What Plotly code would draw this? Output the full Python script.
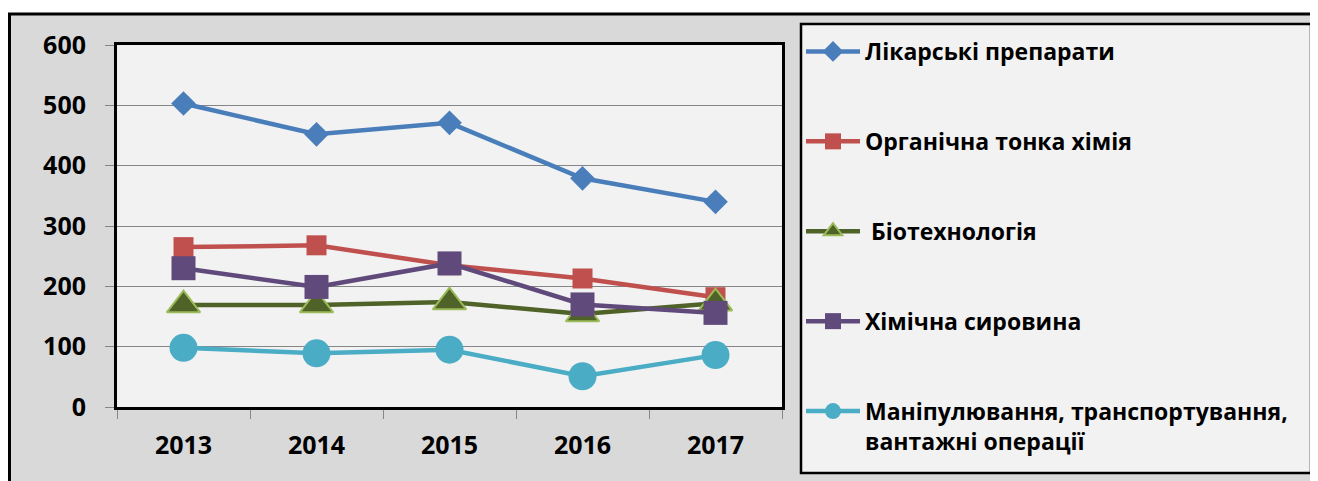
import plotly.graph_objects as go

years = ["2013", "2014", "2015", "2016", "2017"]
names = [
    "Лікарські препарати",
    "Органічна тонка хімія",
    " Біотехнологія",
    "Хімічна сировина",
    "Маніпулювання, транспортування,<br>вантажні операції",
]
drugs = [503, 452, 471, 379, 340]
organic = [265, 268, 235, 213, 182]
biotech = [169, 169, 174, 154, 172]
chem_raw = [230, 199, 238, 170, 156]
handling = [98, 89, 95, 51, 86]
y_ticks = [0, 100, 200, 300, 400, 500, 600]

# page offset from the default body margin
OFF = 8
W, H = 1310, 473
L, R, T, B = 117, 782, 45, 407   # plot area in page pixels


def px(X):
    return (X - L) / (R - L)


def py(Y):
    return (B - Y) / (B - T)


FONT = "Open Sans"

fig = go.Figure()
series = [
    (drugs, names[0], "#4a7ebb", dict(symbol="diamond", size=19, color="#4a7ebb")),
    (organic, names[1], "#c0504d", dict(symbol="square", size=20, color="#c0504d")),
    (biotech, names[2], "#4f6228", dict(symbol="triangle-up", size=29, color="#4f6228",
                                         line=dict(color="#9bbb59", width=2))),
    (chem_raw, names[3], "#604a7b", dict(symbol="square", size=24, color="#604a7b")),
    (handling, names[4], "#4bacc6", dict(symbol="circle", size=28, color="#4bacc6")),
]
for i, (vals, nm, col, mk) in enumerate(series):
    fig.add_trace(go.Scatter(
        x=years, y=vals, name=nm, mode="lines+markers",
        line=dict(color=col, width=4.5), marker=mk,
        legendgroup=f"g{i}",
    ))

shapes = [
    dict(type="rect", xref="paper", yref="paper", x0=px(-10), x1=px(1340), y0=py(14), y1=py(-10),
         fillcolor="white", line=dict(width=0), layer="below"),
    dict(type="rect", xref="paper", yref="paper", x0=px(-10), x1=px(9.5), y0=py(500), y1=py(14),
         fillcolor="white", line=dict(width=0), layer="below"),
    dict(type="rect", xref="paper", yref="paper", x0=px(9.5), x1=px(1340), y0=py(500), y1=py(14),
         line=dict(color="black", width=3), layer="below"),
    dict(type="rect", xref="paper", yref="paper", x0=px(801), x1=px(1311), y0=py(473), y1=py(24),
         fillcolor="#f2f2f2", line=dict(color="black", width=2.5), layer="below"),
]

fig.update_layout(
    width=W, height=H,
    margin=dict(l=L - OFF, r=W + OFF - R, t=T - OFF, b=H + OFF - B, pad=0),
    paper_bgcolor="#d9d9d9",
    plot_bgcolor="#f2f2f2",
    shapes=shapes,
    showlegend=True,
    legend=dict(
        x=px(801), xanchor="left", y=py(30), yanchor="top",
        bgcolor="rgba(0,0,0,0)", borderwidth=0,
        font=dict(family=FONT, size=23, color="black", weight="bold"),
        tracegroupgap=57, valign="top", itemwidth=54, maxheight=460,
    ),
    xaxis=dict(
        type="category", range=[-0.5, 4.5],
        showline=True, linecolor="black", linewidth=3, mirror=True,
        ticks="outside", tickson="boundaries", ticklen=9, tickcolor="#868686", tickwidth=1,
        showgrid=False, zeroline=False,
        tickfont=dict(family=FONT, size=25, color="black", weight="bold"),
        ticklabelstandoff=14,
    ),
    yaxis=dict(
        range=[0, 600], tickvals=y_ticks,
        showline=True, linecolor="black", linewidth=3, mirror=True,
        ticks="outside", ticklen=9, tickcolor="#868686", tickwidth=1,
        showgrid=True, gridcolor="#868686", gridwidth=1, zeroline=False,
        tickfont=dict(family=FONT, size=25, color="black", weight="bold"),
        ticklabelstandoff=14,
    ),
)

fig.write_html("out.html")
